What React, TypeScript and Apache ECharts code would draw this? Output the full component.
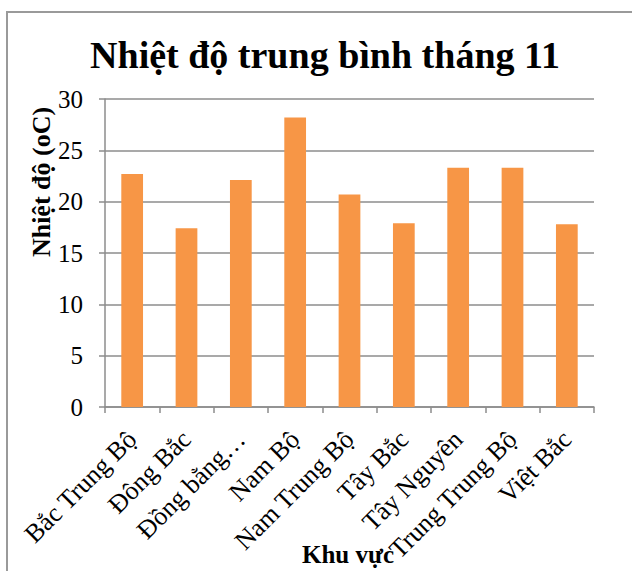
import React, { useEffect, useRef } from "react";
import * as echarts from "echarts";

const categories = [
  "Bắc Trung Bộ",
  "Đông Bắc",
  "Đồng bằng…",
  "Nam Bộ",
  "Nam Trung Bộ",
  "Tây Bắc",
  "Tây Nguyên",
  "Trung Trung Bộ",
  "Việt Bắc",
];
const temperatures = [22.7, 17.4, 22.1, 28.2, 20.7, 17.9, 23.3, 23.3, 17.8];
const titleText = "Nhiệt độ trung bình tháng 11";
const yAxisTitle = "Nhiệt độ (oC)";
const xAxisTitle = "Khu vực";

const FONT = "'Liberation Serif', 'Times New Roman', serif";

export default function App() {
  const ref = useRef<HTMLDivElement>(null);
  useEffect(() => {
    if (!ref.current) return;
    const chart = echarts.init(ref.current, undefined, { renderer: "svg" });
    chart.setOption({
      animation: false,
      backgroundColor: "#ffffff",
      textStyle: { fontFamily: FONT },
      title: {
        text: titleText,
        left: 320,
        textAlign: "center",
        top: 31,
        textStyle: { fontFamily: FONT, fontSize: 38, fontWeight: "bold", color: "#000" },
      },
      grid: { left: 105, right: 38, top: 99, bottom: 164, outerBoundsMode: "none", containLabel: false },
      xAxis: {
        type: "category",
        data: categories,
        axisLine: { lineStyle: { color: "#8c8c8c", width: 1.5 } },
        axisTick: { show: true, alignWithLabel: false, length: 6, lineStyle: { color: "#8c8c8c", width: 1.5 } },
        axisLabel: {
          rotate: 45,
          interval: 0,
          margin: 28,
          fontFamily: FONT,
          fontSize: 26,
          color: "#000",
        },
      },
      yAxis: {
        type: "value",
        min: 0,
        max: 30,
        interval: 5,
        axisLine: { show: true, lineStyle: { color: "#8c8c8c", width: 1.5 } },
        axisTick: { show: true, length: 6, lineStyle: { color: "#8c8c8c", width: 1.5 } },
        splitLine: { lineStyle: { color: "#8c8c8c", width: 1.5 } },
        axisLabel: { fontFamily: FONT, fontSize: 25, color: "#000", margin: 22 },
      },
      series: [
        {
          type: "bar",
          data: temperatures,
          barCategoryGap: "60%",
          itemStyle: { color: "#F79646" },
        },
      ],
      graphic: [
        {
          type: "rect",
          shape: { x: 7, y: 12, width: 700, height: 700 },
          style: { fill: "none", stroke: "#9a9a9a", lineWidth: 2 },
          silent: true,
        },
        {
          type: "text",
          x: 41,
          y: 182,
          rotation: Math.PI / 2,
          style: {
            text: yAxisTitle,
            fontFamily: FONT,
            fontSize: 26,
            fontWeight: "bold",
            fill: "#000",
            align: "center",
            verticalAlign: "middle",
          },
        },
        {
          type: "text",
          x: 348,
          y: 554,
          style: {
            text: xAxisTitle,
            fontFamily: FONT,
            fontSize: 25,
            fontWeight: "bold",
            fill: "#000",
            align: "center",
            verticalAlign: "middle",
          },
        },
      ],
    });
    return () => chart.dispose();
  }, []);
  return (
    <div
      ref={ref}
      style={{ position: "fixed", left: 0, top: 0, width: 632, height: 571 }}
    />
  );
}
